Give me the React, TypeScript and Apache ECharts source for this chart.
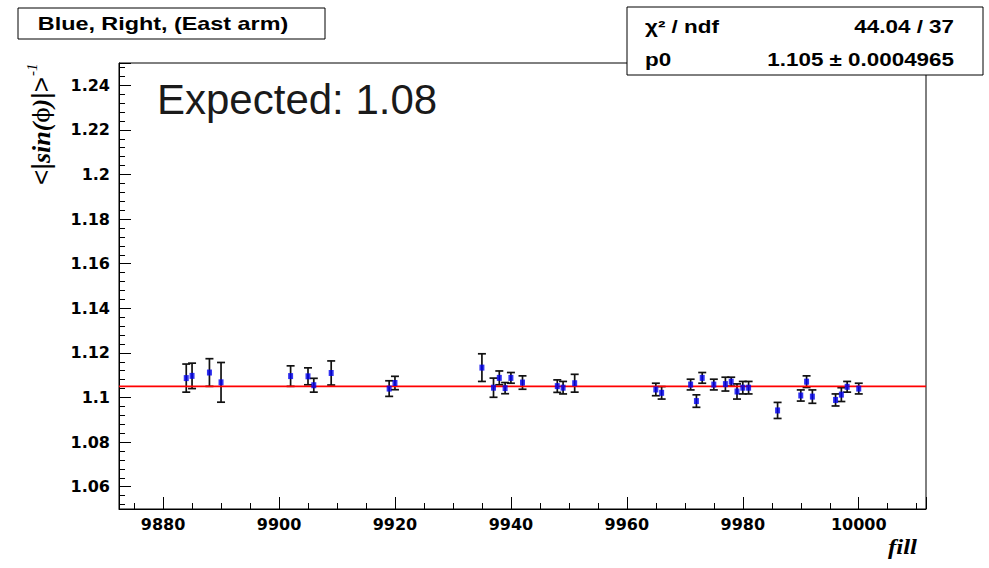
import React, { useEffect, useRef } from 'react';
import * as echarts from 'echarts';

const fills = [9884, 9885, 9888, 9890, 9902, 9905, 9906, 9909, 9919, 9920, 9935, 9937, 9938, 9939, 9940, 9942, 9948, 9949, 9951, 9965, 9966, 9971, 9972, 9973, 9975, 9977, 9978, 9979, 9980, 9981, 9986, 9990, 9991, 9992, 9996, 9997, 9998, 10000];
const values = [1.1087, 1.1097, 1.1112, 1.1068, 1.1096, 1.1095, 1.1055, 1.1110, 1.1040, 1.1065, 1.1134, 1.1044, 1.1088, 1.1042, 1.1088, 1.1067, 1.1051, 1.1044, 1.1064, 1.1036, 1.1021, 1.1058, 1.0984, 1.1088, 1.1058, 1.1060, 1.1071, 1.1027, 1.1044, 1.1044, 1.0942, 1.1009, 1.1071, 1.1004, 1.0989, 1.1013, 1.1048, 1.1040];
const errors = [0.0063, 0.0057, 0.0062, 0.0089, 0.0046, 0.0038, 0.0031, 0.0054, 0.0035, 0.0030, 0.0062, 0.0043, 0.0031, 0.0025, 0.0024, 0.0030, 0.0028, 0.0028, 0.0040, 0.0028, 0.0028, 0.0024, 0.0028, 0.0024, 0.0024, 0.0031, 0.0020, 0.0034, 0.0028, 0.0028, 0.0036, 0.0025, 0.0026, 0.0030, 0.0027, 0.0031, 0.0024, 0.0024];
const fitP0 = 1.105;
const xRange = [9872.4, 10011.6];
const yRange = [1.05, 1.25];
const titleText = 'Blue, Right, (East arm)';
const statsRows = [
  ['χ² / ndf', '44.04 / 37'],
  ['p0', '1.105 ± 0.0004965'],
];
const expectedText = 'Expected: 1.08';

export default function App() {
  const ref = useRef<HTMLDivElement>(null);
  useEffect(() => {
    const chart = echarts.init(ref.current!, null, { renderer: 'svg' });
    const pts = fills.map((f, i) => [f, values[i], errors[i]]);
    const labelFont = { fontFamily: '"DejaVu Sans"', fontWeight: 'bold' as const, fontSize: 16, color: '#000' };
    chart.setOption({
      animation: false,
      backgroundColor: '#fff',
      grid: { left: 119, top: 63, width: 807, height: 446, show: true, borderColor: '#000', borderWidth: 1, backgroundColor: 'transparent' },
      xAxis: {
        type: 'value', min: xRange[0], max: xRange[1], splitNumber: 7, minInterval: 20, maxInterval: 20,
        axisLine: { show: true, onZero: false, lineStyle: { color: '#000', width: 1 } },
        axisTick: { show: true, inside: true, length: 12, lineStyle: { color: '#000', width: 1 } },
        minorTick: { show: true, splitNumber: 4, length: 6, lineStyle: { color: '#000', width: 1 } },
        splitLine: { show: false },
        axisLabel: { ...labelFont, showMinLabel: false, showMaxLabel: false, margin: 7, formatter: (v: number) => String(v) },
      },
      yAxis: {
        type: 'value', min: yRange[0], max: yRange[1], splitNumber: 10, minInterval: 0.02, maxInterval: 0.02,
        axisLine: { show: true, onZero: false, lineStyle: { color: '#000', width: 1 } },
        axisTick: { show: true, inside: true, length: 12, lineStyle: { color: '#000', width: 1 } },
        minorTick: { show: true, splitNumber: 5, length: 6, lineStyle: { color: '#000', width: 1 } },
        splitLine: { show: false },
        axisLabel: { ...labelFont, showMinLabel: false, showMaxLabel: false, margin: 9, padding: [6, 0, 0, 0], formatter: (v: number) => String(+v.toFixed(3)) },
      },
      series: [
        {
          type: 'custom',
          z: 2,
          data: pts,
          encode: { x: 0, y: 1 },
          renderItem: (params: any, api: any) => {
            const x = api.value(0), y = api.value(1), e = api.value(2);
            const top = api.coord([x, y + e]);
            const bot = api.coord([x, y - e]);
            const cx = top[0];
            const hw = 4;
            const style = { stroke: '#111', lineWidth: 1.7 };
            return {
              type: 'group',
              children: [
                { type: 'line', shape: { x1: cx, y1: top[1], x2: cx, y2: bot[1] }, style },
                { type: 'line', shape: { x1: cx - hw, y1: top[1], x2: cx + hw, y2: top[1] }, style },
                { type: 'line', shape: { x1: cx - hw, y1: bot[1], x2: cx + hw, y2: bot[1] }, style },
              ],
            };
          },
        },
        {
          type: 'line',
          z: 3,
          data: [[xRange[0], fitP0], [xRange[1], fitP0]],
          showSymbol: false,
          symbol: 'none',
          silent: true,
          lineStyle: { color: '#ff0000', width: 1.6, type: 'solid' },
        },
        {
          type: 'scatter',
          z: 4,
          data: pts.map((p) => [p[0], p[1]]),
          symbol: 'rect',
          symbolSize: [5, 6],
          itemStyle: { color: '#0000ee' },
        },
      ],
      graphic: [
        { type: 'rect', shape: { x: 18, y: 8, width: 307, height: 31 }, style: { fill: '#fff', stroke: '#000', lineWidth: 1 }, z: 10 },
        { type: 'text', x: 163, y: 24, scaleX: 1.23, z: 11, style: { text: titleText, font: 'bold 19px "Liberation Sans"', align: 'center', verticalAlign: 'middle', fill: '#000' } },
        { type: 'rect', shape: { x: 627, y: 7, width: 356, height: 68 }, style: { fill: '#fff', stroke: '#000', lineWidth: 1 }, z: 10 },
        { type: 'text', x: 645, y: 27, scaleX: 1.245, z: 11, style: { text: statsRows[0][0], font: 'bold 18px "Liberation Sans"', align: 'left', verticalAlign: 'middle', fill: '#000' } },
        { type: 'text', x: 954, y: 27, scaleX: 1.245, z: 11, style: { text: statsRows[0][1], font: 'bold 18px "Liberation Sans"', align: 'right', verticalAlign: 'middle', fill: '#000' } },
        { type: 'text', x: 645, y: 59.5, scaleX: 1.245, z: 11, style: { text: statsRows[1][0], font: 'bold 18px "Liberation Sans"', align: 'left', verticalAlign: 'middle', fill: '#000' } },
        { type: 'text', x: 954, y: 59.5, scaleX: 1.245, z: 11, style: { text: statsRows[1][1], font: 'bold 18px "Liberation Sans"', align: 'right', verticalAlign: 'middle', fill: '#000' } },
        { type: 'text', x: 157, y: 99, z: 11, style: { text: expectedText, font: '42px "Liberation Sans"', align: 'left', verticalAlign: 'middle', fill: '#1a1a1a' } },
        {
          type: 'group', x: 41, y: 124, rotation: Math.PI / 2, z: 11,
          children: [
            {
              type: 'text', x: -61, y: 0,
              style: {
                text: '{a|<|}{b|sin(}{c|ϕ}{b|)}{a||>}',
                align: 'left', verticalAlign: 'middle', fill: '#000',
                rich: {
                  a: { fontFamily: '"Liberation Sans"', fontSize: 26, fill: '#000' },
                  b: { fontFamily: '"Liberation Serif"', fontStyle: 'italic', fontWeight: 'bold', fontSize: 26, fill: '#000' },
                  c: { fontFamily: '"DejaVu Serif"', fontSize: 22, fill: '#000' },
                },
              },
            },
            { type: 'text', x: 48, y: -9, style: { text: '-1', font: 'italic 15px "Liberation Serif"', align: 'left', verticalAlign: 'middle', fill: '#000' } },
          ],
        },
        { type: 'text', x: 917, y: 547, scaleX: 1.244, z: 11, style: { text: 'fill', font: 'italic bold 20px "Liberation Serif"', align: 'right', verticalAlign: 'middle', fill: '#000' } },
      ],
    });
    return () => chart.dispose();
  }, []);
  return <div ref={ref} style={{ position: 'absolute', left: 0, top: 0, width: 989, height: 568, background: '#fff' }} />;
}
